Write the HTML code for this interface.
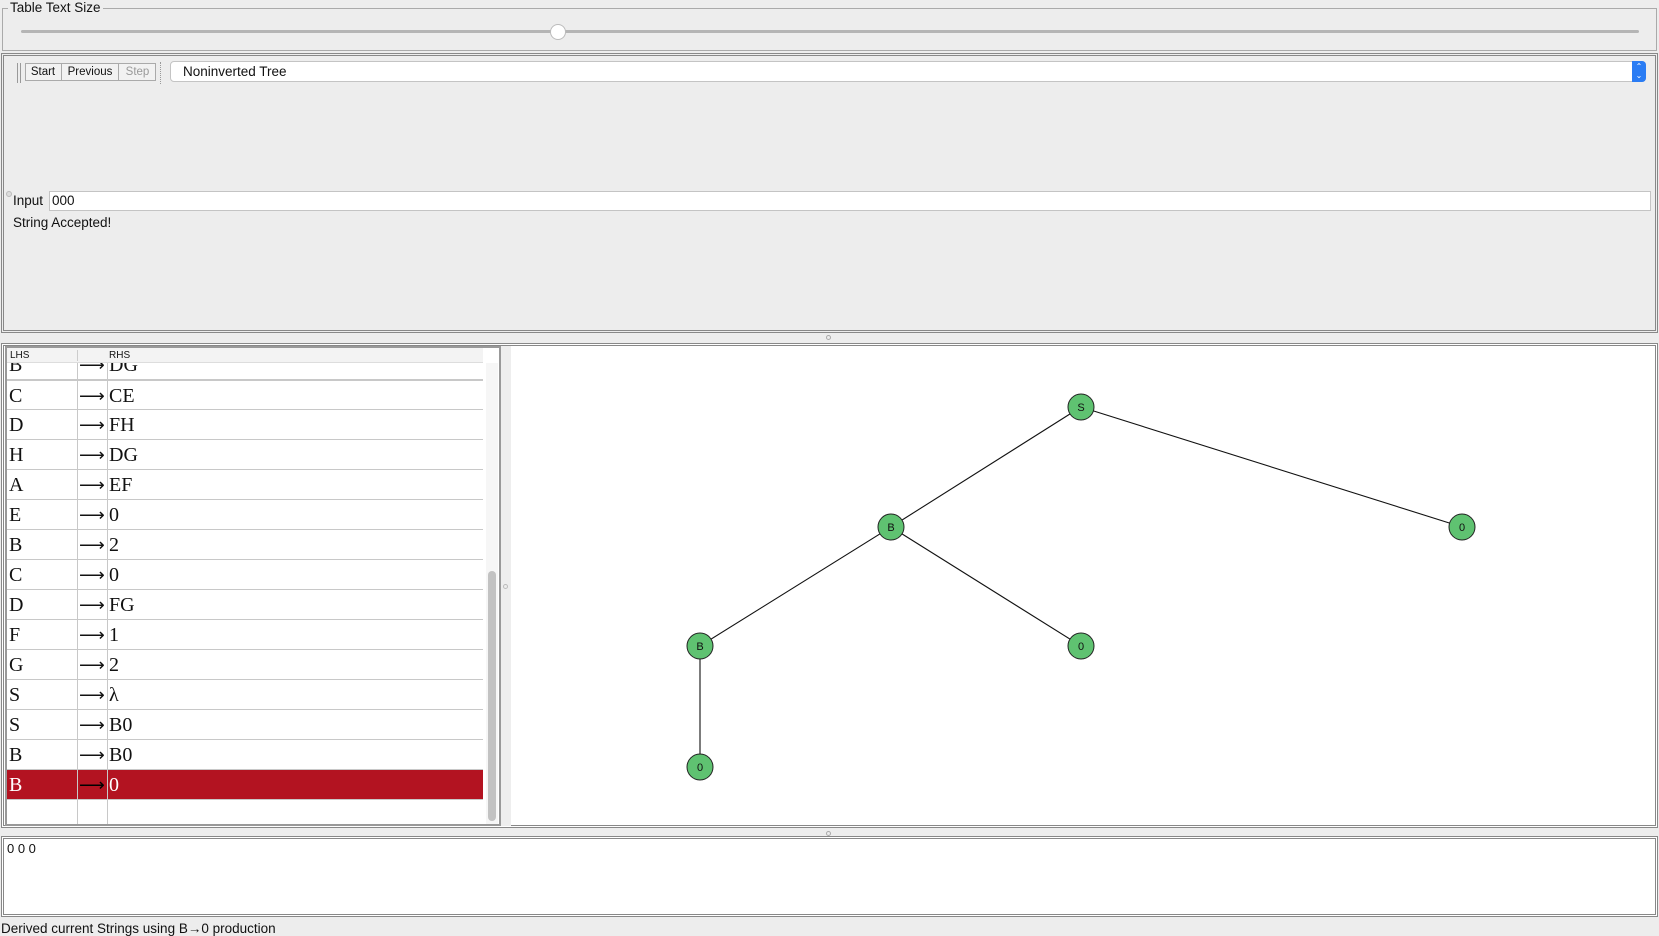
<!DOCTYPE html>
<html><head><meta charset="utf-8">
<style>
*{box-sizing:border-box;margin:0;padding:0}
body{width:1659px;height:936px;background:#ededed;position:relative;overflow:hidden;font-family:"Liberation Sans",sans-serif;font-size:13px;color:#111}
.a{position:absolute}
.row{position:absolute;left:7px;width:476px;height:30px;border-bottom:1px solid #c8c8c8;font-family:"Liberation Serif",serif;font-size:20px;line-height:30px}
.row span{position:absolute;top:0}
.l{left:2px}.m{left:72px;font-size:18px;font-weight:300}.r{left:102px}
</style></head><body>
<div class="a" style="left:2px;top:8px;width:1655px;height:43px;border:1px solid #aaa"></div>
<div class="a" style="left:8px;top:0px;background:#ededed;padding:0 2px;font-size:13.5px">Table Text Size</div>
<div class="a" style="left:21px;top:30px;width:1618px;height:3px;background:#b5b5b5;border-radius:2px"></div>
<div class="a" style="left:550px;top:24px;width:16px;height:16px;border-radius:50%;background:#fff;border:1px solid #bbb"></div>
<div class="a" style="left:1px;top:53px;width:1657px;height:280px;border:3px double #888"></div>
<div class="a" style="left:17px;top:63px;width:4px;height:20px;border-left:1px solid #999;border-right:1px solid #999"></div>
<div class="a" style="left:25px;top:63px;width:131px;height:18px;border:1px solid #aaa;background:#f2f2f2"></div>
<div class="a" style="left:25px;top:63px;width:37px;height:18px;border-right:1px solid #aaa;font-size:11.5px;text-align:center;line-height:19px">Start</div>
<div class="a" style="left:62px;top:63px;width:57px;height:18px;border-right:1px solid #aaa;font-size:11.5px;text-align:center;line-height:19px">Previous</div>
<div class="a" style="left:119px;top:63px;width:37px;height:18px;font-size:11.5px;text-align:center;line-height:19px;color:#999">Step</div>
<div class="a" style="left:160px;top:62px;height:22px;border-left:1px dotted #999"></div>
<div class="a" style="left:170px;top:61px;width:1476px;height:21px;background:#fff;border:1px solid #c4c4c4;border-radius:4px;font-size:13.5px;line-height:19px;padding-left:12px">Noninverted Tree</div>
<div class="a" style="left:1632px;top:61px;width:14px;height:21px;background:#2a7cf4;border-radius:0 4px 4px 0;color:#fff;font-size:8px;line-height:9px;text-align:center;padding-top:1px">&#8963;<br>&#8964;</div>
<div class="a" style="left:6px;top:191px;width:6px;height:6px;border-radius:50%;background:#ddd;border:1px solid #bbb"></div>
<div class="a" style="left:13px;top:193px;font-size:13.5px">Input</div>
<div class="a" style="left:49px;top:191px;width:1602px;height:20px;background:#fff;border:1px solid #c4c4c4;font-size:13.5px;line-height:18px;padding-left:2px">000</div>
<div class="a" style="left:13px;top:215px;font-size:13.5px">String Accepted!</div>
<div class="a" style="left:826px;top:335px;width:5px;height:5px;border-radius:50%;border:1px solid #aaa"></div>
<div class="a" style="left:1px;top:343px;width:1657px;height:485px;border:3px double #888;background:#fff"></div>
<div class="a" style="left:5px;top:346px;width:496px;height:480px;background:#fff;border:2px solid #999"></div>
<div class="a" style="left:501px;top:346px;width:10px;height:480px;background:#eee"></div>
<div class="a" style="left:503px;top:584px;width:5px;height:5px;border-radius:50%;border:1px solid #bbb"></div>
<div class="a" style="left:7px;top:348px;width:476px;height:15px;background:#f3f3f3;border-bottom:1px solid #ddd;font-size:10px;line-height:15px"><span style="position:absolute;left:3px">LHS</span><span style="position:absolute;left:102px">RHS</span><span style="position:absolute;left:70px;top:2px;height:11px;border-left:1px solid #ccc"></span></div>
<div class="a" style="left:7px;top:363px;width:476px;height:461px;overflow:hidden">
 <div class="a" style="left:70px;top:0;width:1px;height:461px;background:#c8c8c8"></div>
 <div class="a" style="left:100px;top:0;width:1px;height:461px;background:#c8c8c8"></div>
</div>
<div class="a" style="left:7px;top:363px;width:476px;height:17px;overflow:hidden"><div class="row" style="left:0;top:-13px"><span class="l">B</span><span class="m">&#10230;</span><span class="r">DG</span></div></div>
<div class="row" style="top:380px;border-top:1px solid #c8c8c8"><span class="l">C</span><span class="m">&#10230;</span><span class="r">CE</span></div>
<div class="row" style="top:410px"><span class="l">D</span><span class="m">&#10230;</span><span class="r">FH</span></div>
<div class="row" style="top:440px"><span class="l">H</span><span class="m">&#10230;</span><span class="r">DG</span></div>
<div class="row" style="top:470px"><span class="l">A</span><span class="m">&#10230;</span><span class="r">EF</span></div>
<div class="row" style="top:500px"><span class="l">E</span><span class="m">&#10230;</span><span class="r">0</span></div>
<div class="row" style="top:530px"><span class="l">B</span><span class="m">&#10230;</span><span class="r">2</span></div>
<div class="row" style="top:560px"><span class="l">C</span><span class="m">&#10230;</span><span class="r">0</span></div>
<div class="row" style="top:590px"><span class="l">D</span><span class="m">&#10230;</span><span class="r">FG</span></div>
<div class="row" style="top:620px"><span class="l">F</span><span class="m">&#10230;</span><span class="r">1</span></div>
<div class="row" style="top:650px"><span class="l">G</span><span class="m">&#10230;</span><span class="r">2</span></div>
<div class="row" style="top:680px"><span class="l">S</span><span class="m">&#10230;</span><span class="r">&#955;</span></div>
<div class="row" style="top:710px"><span class="l">S</span><span class="m">&#10230;</span><span class="r">B0</span></div>
<div class="row" style="top:740px"><span class="l">B</span><span class="m">&#10230;</span><span class="r">B0</span></div>
<div class="row" style="top:770px;background:#b31321;color:#fff"><span class="l">B</span><span class="m" style="color:#000">&#10230;</span><span class="r">0</span><span style="position:absolute;left:70px;top:0;width:1px;height:30px;background:#c8c8c8"></span><span style="position:absolute;left:100px;top:0;width:1px;height:30px;background:#c8c8c8"></span></div>
<div class="a" style="left:486px;top:363px;width:12px;height:461px;background:#f6f6f6"></div>
<div class="a" style="left:488px;top:571px;width:8px;height:250px;background:#c2c2c2;border-radius:4px"></div>
<svg class="a" style="left:0;top:0" width="1659" height="936">
<g stroke="#111" stroke-width="1.1">
<line x1="1081" y1="407" x2="891" y2="527"/>
<line x1="1081" y1="407" x2="1462" y2="527"/>
<line x1="891" y1="527" x2="700" y2="646"/>
<line x1="891" y1="527" x2="1081" y2="646"/>
<line x1="700" y1="646" x2="700" y2="767"/>
</g>
<g fill="#5fc271" stroke="#222" stroke-width="1">
<circle cx="1081" cy="407" r="13"/><circle cx="891" cy="527" r="13"/><circle cx="1462" cy="527" r="13"/>
<circle cx="700" cy="646" r="13"/><circle cx="1081" cy="646" r="13"/><circle cx="700" cy="767" r="13"/>
</g>
<g font-family="Liberation Sans,sans-serif" font-size="11" text-anchor="middle" fill="#111">
<text x="1081" y="411">S</text><text x="891" y="531">B</text><text x="1462" y="531">0</text>
<text x="700" y="650">B</text><text x="1081" y="650">0</text><text x="700" y="771">0</text>
</g>
</svg>
<div class="a" style="left:826px;top:831px;width:5px;height:5px;border-radius:50%;border:1px solid #aaa"></div>
<div class="a" style="left:1px;top:836px;width:1657px;height:81px;border:3px double #888;background:#fff"></div>
<div class="a" style="left:7px;top:841px;font-size:13px">0 0 0</div>
<div class="a" style="left:1px;top:921px;font-size:13.5px">Derived current Strings using B&#8594;0 production</div>
</body></html>
